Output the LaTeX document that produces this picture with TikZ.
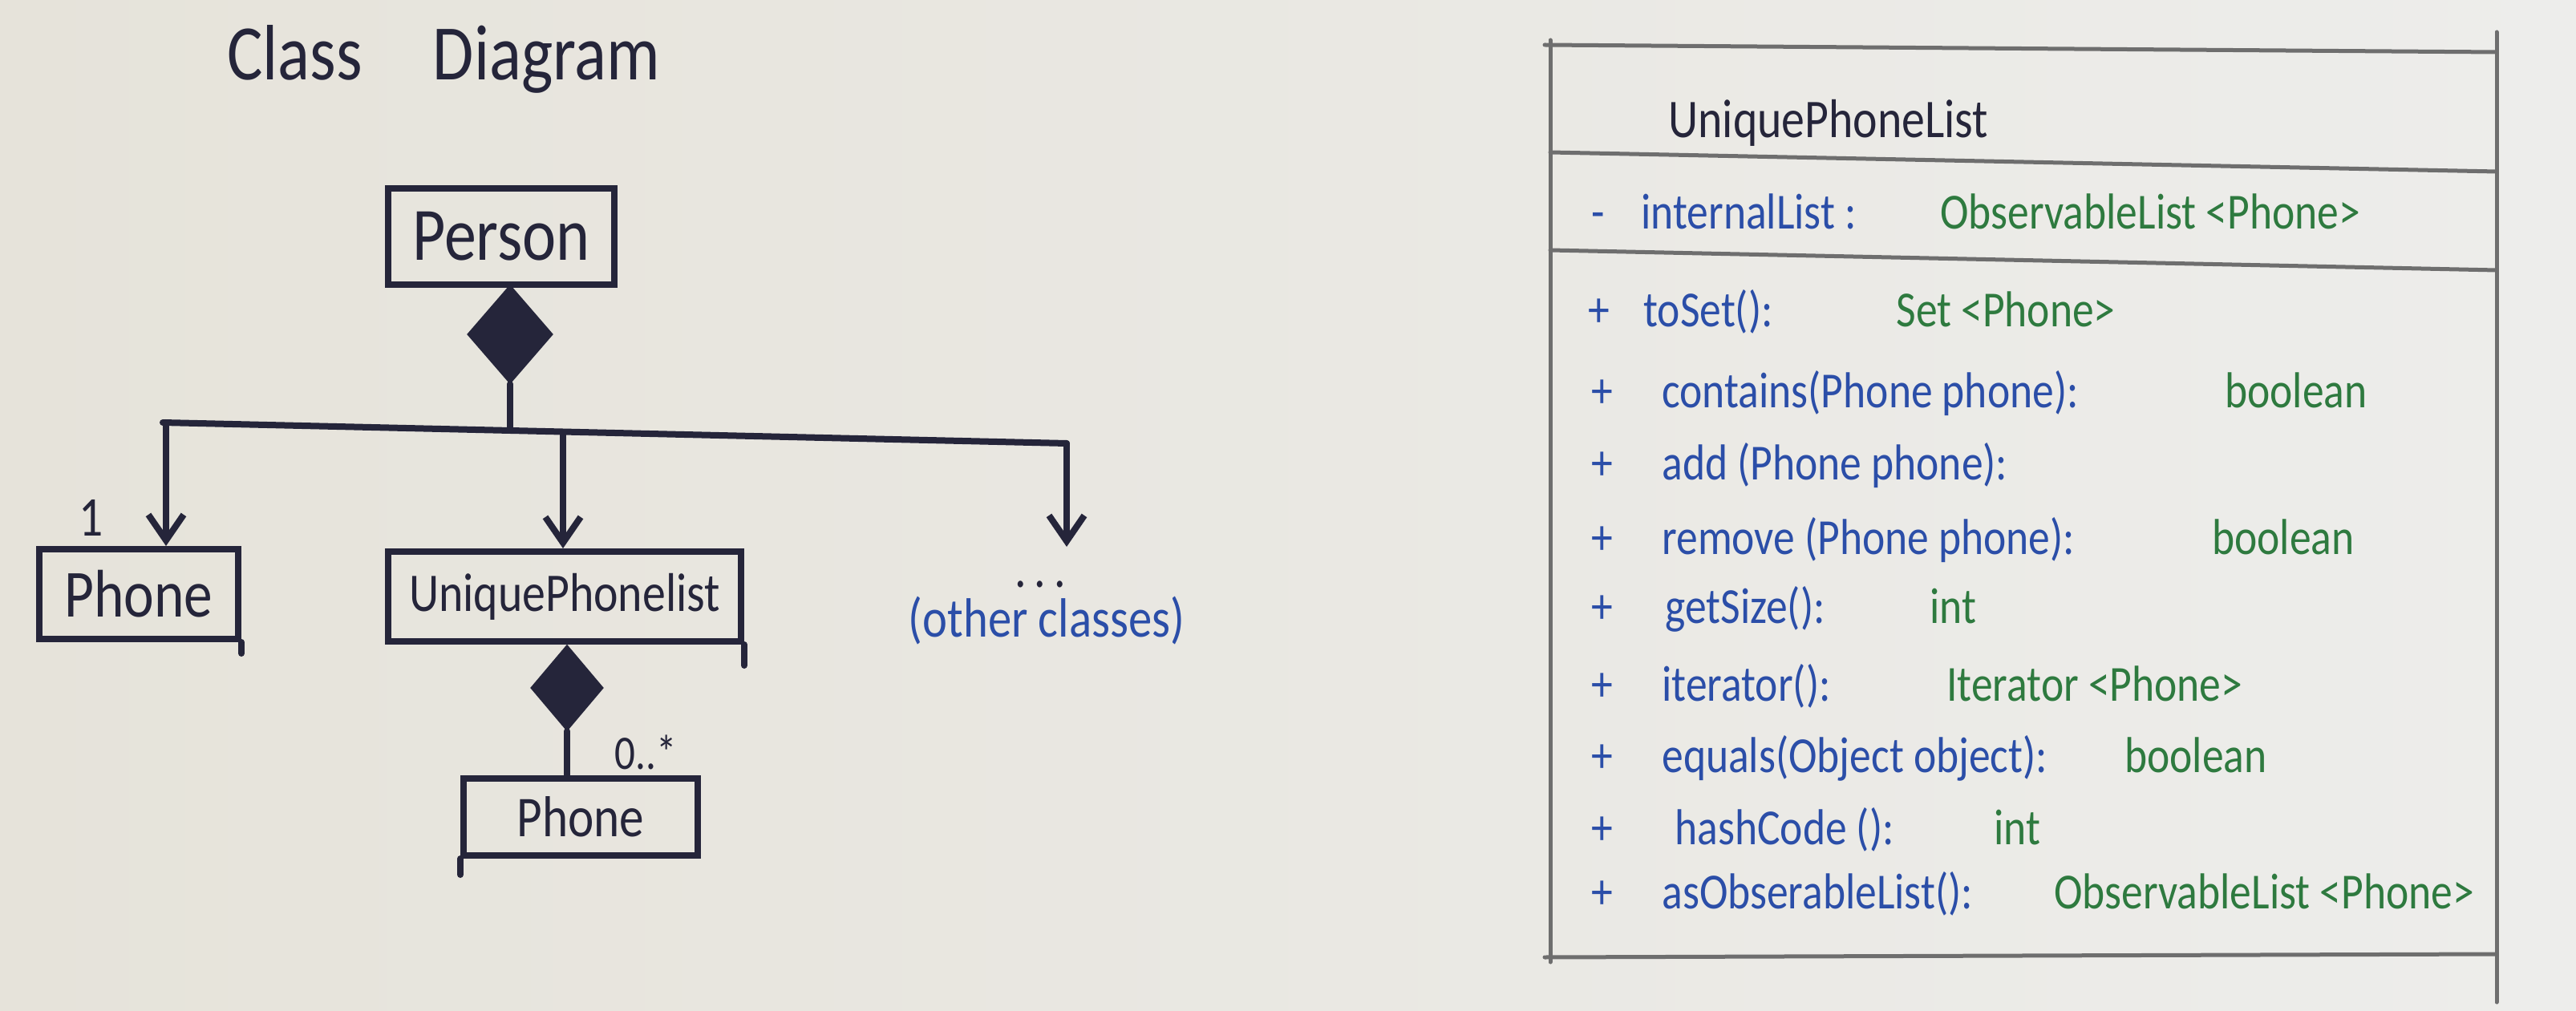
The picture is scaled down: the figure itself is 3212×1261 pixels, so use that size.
\documentclass[tikz,border=0pt]{standalone}
\usepackage{fontspec}
\setmainfont[FakeStretch=0.85]{Carlito}
\usetikzlibrary{shapes.geometric,arrows.meta}
\definecolor{ink}{HTML}{25253A}
\definecolor{blueink}{HTML}{2B4EA8}
\definecolor{greenink}{HTML}{2E7A3F}
\definecolor{pencil}{HTML}{6E6E6E}
\definecolor{paperL}{HTML}{E6E3DA}
\definecolor{paperR}{HTML}{EDEDEB}
\tikzset{
  cls/.style={draw=ink, line width=4pt, inner sep=0pt, text=ink},
  comp/.style={diamond, draw=ink, fill=ink, line width=2pt, inner sep=0pt},
  wire/.style={draw=ink, line width=4pt, line cap=round, line join=round},
  arr/.style={wire, -{Straight Barb[length=16pt,width=22pt]}},
  pencilline/.style={draw=pencil, line width=2.5pt, line cap=round},
  rfont/.style={font=\fontsize{31.5pt}{34pt}\selectfont},
  bl/.style={rfont, text=blueink, anchor=base west, inner sep=0pt},
  gr/.style={rfont, text=greenink, anchor=base west, inner sep=0pt},
}
\begin{document}
\begin{tikzpicture}[x=0.5pt, y=-0.5pt]
\shade[left color=paperL, right color=paperR] (0,0) rectangle (3212,1261);
\useasboundingbox (0,0) rectangle (3212,1261);

% ---------- left: class diagram ----------
\node[text=ink, anchor=base west, inner sep=0pt, font=\fontsize{49pt}{52pt}\selectfont] (heading) at (283,100) {Class\hspace{44pt}Diagram};

\node[cls, minimum width=141pt, minimum height=60pt, font=\fontsize{47pt}{50pt}\selectfont] (person) at (625,295) {Person};
\node[comp, minimum width=52pt, minimum height=60pt] (d1) at (636,417) {};

\coordinate (barL) at (203,527);
\coordinate (barR) at (1330,553);
\coordinate (dL) at (207,527);
\coordinate (dM) at (702,539);
\coordinate (jT) at (636,537);
\coordinate (other) at (1330,682);

\draw[wire] (d1.south) -- (jT);
\draw[wire] (barL) -- (barR);

\node[cls, minimum width=124pt, minimum height=56pt, font=\fontsize{42pt}{45pt}\selectfont] (phoneA) at (173,741) {Phone};
\node[cls, minimum width=220pt, minimum height=56pt, font=\fontsize{34pt}{37pt}\selectfont] (upl) at (704,744) {UniquePhonelist};

\draw[arr] (dL) -- (dL |- phoneA.north);
\draw[arr] (dM) -- (dM |- upl.north);
\draw[arr] (barR) -- (other);

\draw[wire] (phoneA.south east) -- ++(0,14);
\draw[wire] (upl.south east) -- ++(0,26);

\node[comp, minimum width=44pt, minimum height=52pt] (d2) at (707,858) {};
\node[cls, minimum width=146pt, minimum height=48pt, font=\fontsize{36pt}{39pt}\selectfont] (phoneB) at (724,1019) {Phone};
\draw[wire] (d2.south) -- (d2.south |- phoneB.north);
\draw[wire] (phoneB.south west) -- ++(0,20);

\node[text=ink, font=\fontsize{35pt}{38pt}\selectfont, inner sep=0pt] (one) at (114,646) {1};
\node[text=ink, font=\fontsize{30pt}{33pt}\selectfont, inner sep=0pt] (mult) at (805,938) {0..*};
\node[text=ink, font=\fontsize{34pt}{37pt}\selectfont, anchor=base, inner sep=0pt] (dots) at (1297,732) {.\hspace{5pt}.\hspace{5pt}.};
\node[text=blueink, font=\fontsize{34.5pt}{37pt}\selectfont, inner sep=0pt] (others) at (1305,774) {(other classes)};

% ---------- right: UniquePhoneList class box ----------
\draw[pencilline] (1933,50) -- (1933,1200);
\draw[pencilline] (3113,40) -- (3113,1250);
\draw[pencilline] (1926,56) -- (3113,65);
\draw[pencilline] (1933,190) -- (3113,214);
\draw[pencilline] (1933,312) -- (3113,337);
\draw[pencilline] (1926,1194) -- (3113,1190);

\node[text=ink, anchor=base west, inner sep=0pt, font=\fontsize{34pt}{37pt}\selectfont] (ttl) at (2080,172) {UniquePhoneList};

\node[bl] (a0) at (1984,286) {-};
\node[bl] (a1) at (2046,286) {internalList :};
\node[gr] (a2) at (2419,286) {ObservableList <Phone>};

\node[bl] (p1) at (1980,408) {+};
\node[bl] (m1) at (2049,408) {toSet():};
\node[gr] (r1) at (2364,408) {Set <Phone>};

\node[bl] (p2) at (1984,509) {+};
\node[bl] (m2) at (2072,509) {contains(Phone phone):};
\node[gr] (r2) at (2774,509) {boolean};

\node[bl] (p3) at (1984,598) {+};
\node[bl] (m3) at (2072,598) {add (Phone phone):};

\node[bl] (p4) at (1984,691) {+};
\node[bl] (m4) at (2072,691) {remove (Phone phone):};
\node[gr] (r4) at (2758,691) {boolean};

\node[bl] (p5) at (1984,777) {+};
\node[bl] (m5) at (2076,777) {getSize():};
\node[gr] (r5) at (2406,777) {int};

\node[bl] (p6) at (1984,874) {+};
\node[bl] (m6) at (2072,874) {iterator():};
\node[gr] (r6) at (2427,874) {Iterator <Phone>};

\node[bl] (p7) at (1984,963) {+};
\node[bl] (m7) at (2072,963) {equals(Object object):};
\node[gr] (r7) at (2649,963) {boolean};

\node[bl] (p8) at (1984,1053) {+};
\node[bl] (m8) at (2088,1053) {hashCode ():};
\node[gr] (r8) at (2486,1053) {int};

\node[bl] (p9) at (1984,1133) {+};
\node[bl] (m9) at (2072,1133) {asObserableList():};
\node[gr] (r9) at (2561,1133) {ObservableList <Phone>};
\end{tikzpicture}
\end{document}
